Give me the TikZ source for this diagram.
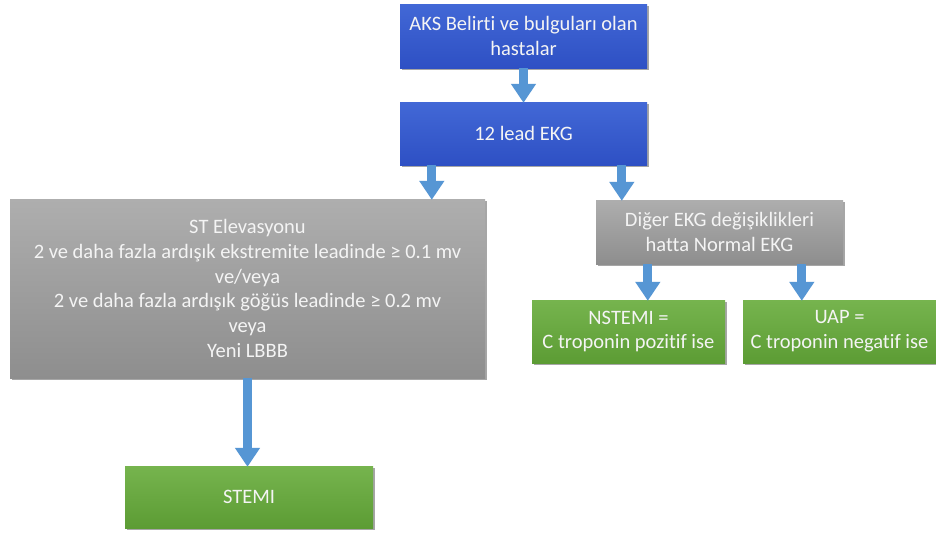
\documentclass[tikz,border=0pt]{standalone}
\usepackage{fontspec}
\setmainfont{Carlito}[Ligatures={NoCommon}]
\usetikzlibrary{arrows.meta,shadows,calc}
\definecolor{arrowblue}{RGB}{86,150,212}
\definecolor{bluetop}{RGB}{66,104,214}
\definecolor{bluebot}{RGB}{46,80,196}
\definecolor{graytop}{RGB}{174,174,174}
\definecolor{graybot}{RGB}{142,142,142}
\definecolor{greentop}{RGB}{118,180,78}
\definecolor{greenbot}{RGB}{92,156,52}
\definecolor{boxtext}{RGB}{244,244,244}
\tikzset{
  box/.style={rectangle, inner sep=2pt, align=center, text=boxtext,
    font=\fontsize{20.5}{24.8}\selectfont,
    drop shadow={shadow xshift=1.5pt, shadow yshift=-1.8pt, opacity=0.35, fill=black}},
  bluebox/.style={box, top color=bluetop, bottom color=bluebot},
  graybox/.style={box, top color=graytop, bottom color=graybot},
  greenbox/.style={box, top color=greentop, bottom color=greenbot},
  arr/.style={draw=arrowblue, line width=9pt,
    -{Triangle[width=24pt,length=19pt]}, shorten >=-1pt}
}
\begin{document}
\begin{tikzpicture}[x=1pt,y=1pt]
\useasboundingbox[fill=white] (0,0) rectangle (936,-533);
\node[bluebox, minimum width=247pt, minimum height=64pt] (aks) at (523.5,-36) {AKS Belirti ve bulguları olan\\hastalar};
\node[bluebox, minimum width=247pt, minimum height=63pt] (ekg) at (523.5,-133.5) {12 lead EKG};
\node[graybox, minimum width=475pt, minimum height=179pt] (st) at (247.5,-288.5) {ST Elevasyonu\\2 ve daha fazla ardışık ekstremite leadinde ≥ 0.1 mv\\ve/veya\\2 ve daha fazla ardışık göğüs leadinde ≥ 0.2 mv\\veya\\Yeni LBBB};
\node[graybox, minimum width=247pt, minimum height=64pt] (diger) at (719.5,-232) {Diğer EKG değişiklikleri\\hatta Normal EKG};
\node[greenbox, minimum width=193pt, minimum height=63pt] (nstemi) at (628.5,-331.5) {NSTEMI =\\C troponin pozitif ise};
\node[greenbox, minimum width=193pt, minimum height=63pt] (uap) at (839.5,-331.5) {UAP =\\C troponin negatif ise};
\node[greenbox, minimum width=248pt, minimum height=62pt] (stemi) at (249,-497) {STEMI};
\draw[arr] (aks.south) -- (ekg.north);
\draw[arr] ([xshift=32pt]ekg.south west) -- ([xshift=32pt]ekg.south west |- st.north);
\draw[arr] ([xshift=222pt]ekg.south west) -- ([xshift=222pt]ekg.south west |- diger.north);
\draw[arr] (st.south) -- (st.south |- stemi.north);
\draw[arr] ([xshift=52pt]diger.south west) -- ([xshift=52pt]diger.south west |- nstemi.north);
\draw[arr] ([xshift=206pt]diger.south west) -- ([xshift=206pt]diger.south west |- uap.north);
\end{tikzpicture}
\end{document}
